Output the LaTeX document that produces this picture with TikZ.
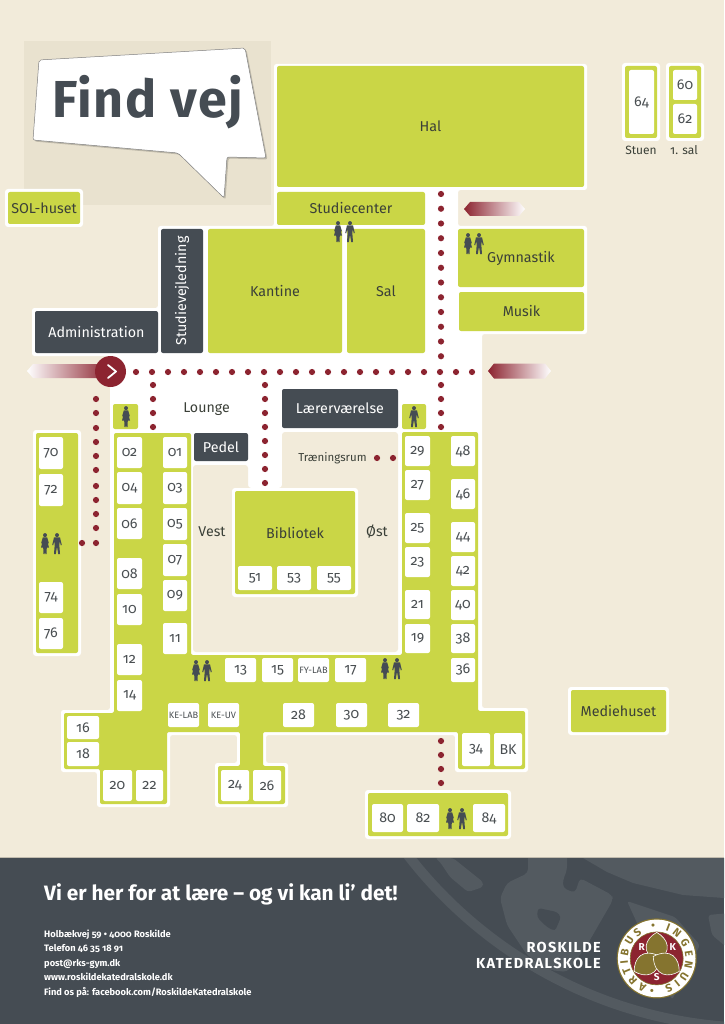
\documentclass[tikz,border=0pt]{standalone}
\usepackage{fontspec}
\usetikzlibrary{decorations.text}
\setmainfont{Fira Sans}[Numbers=OldStyle]
\definecolor{cream}{HTML}{F2EBDA}
\definecolor{creamd}{HTML}{E9E2CF}
\definecolor{lime}{HTML}{CAD646}
\definecolor{slate}{HTML}{454C53}
\definecolor{slatel}{HTML}{535A60}
\definecolor{wine}{HTML}{8C2430}
\definecolor{ink}{HTML}{3B4038}
\definecolor{roomink}{HTML}{4A4F52}
\definecolor{gold}{HTML}{85742F}
\newcommand\fz[1]{\fontsize{#1}{#1}\selectfont}
\tikzset{
  roombox/.style={fill=white,rounded corners=2pt,inner sep=0pt,text=roomink,font=\fz{14.2}},
  smallroom/.style={roombox,font=\fz{9.2}},
  hallbox/.style={fill=lime,rounded corners=2pt,inner sep=0pt,text=ink,font=\fz{14.3}},
  darkbox/.style={fill=slate,rounded corners=2pt,inner sep=0pt,text=white,font=\fz{14.3}},
  label/.style={inner sep=0pt,text=ink,font=\fz{14.2}},
  halo/.style={fill=white,rounded corners=3pt},
  pathdot/.style={fill=wine},
  person/.style={fill=slate},
}
\newcommand\bx[7]{% style, name, text, x1,y1,x2,y2
  \pgfmathsetmacro\bxx{(#4+#6)/2}\pgfmathsetmacro\bxy{(#5+#7)/2}
  \pgfmathsetmacro\bxw{#6-#4}\pgfmathsetmacro\bxh{#7-#5}
  \node[#1,minimum width=\bxw pt,minimum height=\bxh pt] (#2) at (\bxx,\bxy) {#3};}
\newcommand\rb[5]{\bx{roombox}{r#1}{#1}{#2}{#3}{#4}{#5}}
\newcommand\wcwoman[2]{\begin{scope}[shift={(#1,#2)}]
  \fill[person] (0,2.1) circle[radius=2pt];
  \fill[person] (-2.2,4.4)--(2.2,4.4)--(3.8,10)--(3,10.5)--(2,7)--(4,14.5)--(1.8,14.5)--(1.5,21)--(.3,21)--(0,14.5)--(-.3,21)--(-1.5,21)--(-1.8,14.5)--(-4,14.5)--(-2,7)--(-3,10.5)--(-3.8,10)--cycle;
\end{scope}}
\newcommand\wcman[2]{\begin{scope}[shift={(#1,#2)}]
  \fill[person] (0,2.1) circle[radius=2pt];
  \fill[person] (-3,4.4)--(3,4.4)--(4.8,12)--(3.8,12.3)--(2.6,7.5)--(2.4,13)--(3,21)--(1.2,21)--(0,13.5)--(-1.2,21)--(-3,21)--(-2.4,13)--(-2.6,7.5)--(-3.8,12.3)--(-4.8,12)--cycle;
\end{scope}}
\begin{document}
\begin{tikzpicture}[x=1pt,y=-1pt]
\useasboundingbox (0,0) rectangle (724,1024);
\fill[cream] (0,0) rectangle (724,1024);
\fill[creamd] (24,41) rectangle (271,205);
% white floor
\fill[white,rounded corners=2.5pt] (274,64)--(587,64)--(587,190)--(458,190)--(458,226)--(587,226)--(587,334)--(482,334)--(482,708)--(528,708)--(528,772)--(455,772)--(455,735)--(266,735)--(266,763)--(288,763)--(288,807)--(215,807)--(215,763)--(237,763)--(237,735)--(170,735)--(170,807)--(97,807)--(97,772)--(61,772)--(61,710)--(110,710)--(110,356)--(32,356)--(32,308)--(158,308)--(158,226)--(274,226)--cycle;
% courtyard
\fill[cream,rounded corners=3pt] (193,465)--(248,465)--(248,488)--(282,488)--(282,432)--(398,432)--(398,652)--(193,652)--cycle;
\fill[white,rounded corners=3pt] (232,488) rectangle (358,597);
% green main wing
\fill[lime,rounded corners=2pt] (114,433)--(191,433)--(191,655)--(402,655)--(402,432)--(478,432)--(478,711)--(525,711)--(525,769)--(458,769)--(458,732)--(263,732)--(263,766)--(285,766)--(285,804)--(218,804)--(218,766)--(240,766)--(240,732)--(167,732)--(167,804)--(100,804)--(100,769)--(64,769)--(64,713)--(114,713)--cycle;
% halos of separate buildings
\fill[halo] (5,189) rectangle (83,227);
\fill[halo] (622,63) rectangle (660,141);
\fill[halo] (666,63) rectangle (704,141);
\fill[halo] (33,430) rectangle (81,656);
\fill[halo] (365,790) rectangle (511,839);
\fill[halo] (568,687) rectangle (669,735);
% big rooms
\bx{hallbox}{hal}{Hal}{277}{66}{584}{187}
\bx{hallbox}{studiecenter}{Studiecenter}{277}{192}{425}{225}
\bx{hallbox}{kantine}{Kantine}{208}{229}{342}{353}
\bx{hallbox}{sal}{Sal}{347}{229}{425}{353}
\bx{hallbox}{gymnastik}{Gymnastik}{458}{229}{584}{287}
\bx{hallbox}{musik}{Musik}{459}{292}{584}{331}
\bx{hallbox}{solhuset}{SOL-huset}{8}{192}{80}{224}
\bx{hallbox}{mediehuset}{Mediehuset}{571}{690}{666}{732}
\bx{hallbox}{bibliotek}{\raisebox{20pt}{Bibliotek}}{235}{491}{355}{594}
\fill[lime,rounded corners=2pt] (36,433) rectangle (78,653);
\fill[lime,rounded corners=2pt] (368,793) rectangle (508,836);
\fill[lime,rounded corners=2pt] (625,66) rectangle (657,138);
\fill[lime,rounded corners=2pt] (669,66) rectangle (701,138);
\fill[lime,rounded corners=2pt] (113,404) rectangle (138,429);
\fill[lime,rounded corners=2pt] (402,404) rectangle (426,429);
% dark rooms
\bx{darkbox}{admin}{Administration}{35}{311}{158}{353}
\node[darkbox,minimum width=124pt,minimum height=42pt,rotate=90] (studiev) at (182,291) {Studievejledning};
\bx{darkbox}{laerer}{Lærerværelse}{282}{389}{398}{428}
\bx{darkbox}{pedel}{Pedel}{194}{433}{248}{461}
% rooms
\rb{64}{629}{70}{654}{134}\rb{60}{673}{70}{697}{100}\rb{62}{673}{104}{697}{134}
\rb{02}{117}{437}{142}{468}\rb{04}{117}{472}{142}{504}\rb{06}{117}{508}{142}{539}
\rb{08}{117}{558}{142}{589}\rb{10}{117}{594}{142}{625}\rb{12}{117}{644}{142}{675}\rb{14}{117}{680}{142}{711}
\rb{01}{163}{437}{187}{468}\rb{03}{163}{472}{187}{504}\rb{05}{163}{508}{187}{540}
\rb{07}{163}{544}{187}{576}\rb{09}{163}{580}{187}{611}\rb{11}{163}{623}{187}{654}
\rb{70}{39}{437}{63}{469}\rb{72}{39}{474}{63}{506}\rb{74}{39}{582}{63}{613}\rb{76}{39}{618}{63}{649}
\rb{16}{67}{716}{99}{739}\rb{18}{67}{742}{99}{766}
\rb{20}{103}{770}{132}{801}\rb{22}{136}{770}{163}{801}\rb{24}{221}{770}{249}{801}\rb{26}{253}{770}{281}{801}
\rb{13}{225}{658}{256}{682}\rb{15}{262}{658}{293}{682}
\bx{smallroom}{fylab}{FY-LAB}{298}{658}{329}{682}
\rb{17}{335}{658}{366}{682}
\bx{smallroom}{kelab}{KE-LAB}{168}{703}{199}{727}
\bx{smallroom}{keuv}{KE-UV}{208}{703}{239}{727}
\rb{28}{283}{703}{314}{727}\rb{30}{336}{703}{367}{727}\rb{32}{388}{703}{419}{727}
\rb{34}{462}{733}{490}{766}\rb{BK}{494}{733}{522}{766}
\rb{80}{372}{804}{403}{832}\rb{82}{407}{804}{439}{832}\rb{84}{473}{804}{505}{832}
\rb{29}{405}{436}{430}{466}\rb{27}{405}{470}{430}{500}\rb{25}{405}{513}{430}{543}\rb{23}{405}{547}{430}{577}\rb{21}{405}{590}{430}{619}\rb{19}{405}{624}{430}{653}
\rb{48}{451}{436}{475}{466}\rb{46}{451}{479}{475}{509}\rb{44}{451}{522}{475}{552}\rb{42}{451}{556}{475}{586}\rb{40}{451}{590}{475}{620}\rb{38}{451}{624}{475}{653}\rb{36}{451}{658}{475}{682}
\rb{51}{238}{566}{272}{590}\rb{53}{277}{566}{311}{590}\rb{55}{317}{566}{351}{590}
% labels
\node[label] (lounge) at (206.5,409) {Lounge};
\node[label] (vest) at (212,532) {Vest};
\node[label] (oest) at (377,532) {Øst};
\node[label,font=\fz{11.5}] (traening) at (332.5,458) {Træningsrum};
\node[label,font=\fz{12}] (stuen) at (641,150) {Stuen};
\node[label,font=\fz{12}] (forste) at (684,150) {1. sal};
% icons
\wcwoman{338}{221}\wcman{350}{221}
\wcwoman{468}{233}\wcman{479}{233}
\wcwoman{45}{533}\wcman{57}{533}
\wcwoman{196}{660}\wcman{207}{660}
\wcwoman{385}{658}\wcman{397}{658}
\wcwoman{450}{808}\wcman{462}{808}
\wcwoman{126}{406}\wcman{414}{406}
% dotted routes
\foreach \k in {0,...,21}{\pgfmathsetmacro\px{136+16*\k}\fill[pathdot] (\px,372) circle[radius=3.1pt];}
\foreach \py in {385,399,413,427}{\fill[pathdot] (153,\py) circle[radius=3.1pt];\fill[pathdot] (441,\py) circle[radius=3.1pt];}
\foreach \py in {385,399,413,427,441,455,469,483}{\fill[pathdot] (265,\py) circle[radius=3.1pt];}
\foreach \k in {0,...,11}{\pgfmathsetmacro\py{194+14.75*\k}\fill[pathdot] (441,\py) circle[radius=3.1pt];}
\foreach \py in {399,413,428,442,456,470,486,500,514,528,543}{\fill[pathdot] (96,\py) circle[radius=3.1pt];}
\fill[pathdot] (82,543) circle[radius=3.1pt];
\fill[pathdot] (377,458) circle[radius=3.1pt];
\fill[pathdot] (393,458) circle[radius=3.1pt];
\foreach \py in {741,755,769,783}{\fill[pathdot] (441,\py) circle[radius=3.1pt];}
% arrows
\shade[left color=white,right color=wine] (27,371)--(33,364)--(110,364)--(110,378)--(33,378)--cycle;
\fill[wine] (110.5,371.5) circle[radius=15.5pt];
\draw[white,line width=1.8pt,line cap=round,line join=round] (108,365)--(116,371.5)--(108,378);
\shade[left color=wine,right color=white] (464,209)--(470,202)--(519,202)--(525,209)--(519,216)--(470,216)--cycle;
\shade[left color=wine,right color=white] (488,371)--(494,363.5)--(545,363.5)--(551,371)--(545,378.5)--(494,378.5)--cycle;
% speech bubble
\fill[black,opacity=.18,rounded corners=2pt,shift={(1.5,1.5)}] (39,60)--(245,48)--(266,158)--(227,157)--(224,198)--(178,153)--(33,140)--cycle;
\draw[fill=white,draw=gray,line width=.5pt,rounded corners=2pt] (39,60)--(245,48)--(266,158)--(227,157)--(224,198)--(178,153)--(33,140)--cycle;
\node[anchor=base west,inner sep=0pt,text=slate,font=\fz{52}\bfseries\addfontfeature{LetterSpace=3}] (findvej) at (52,118) {Find vej};
% footer
\fill[slate] (0,858) rectangle (724,1024);
\draw[line width=.8pt,color=black!20!cream] (0,857.6)--(724,857.6);
\begin{scope}
\clip (0,858.2) rectangle (724,1024);
\draw[slatel,line width=10pt] (760,583) circle[radius=445pt];
\fill[slatel,rounded corners=3pt] (435,858)--(453,858)--(483,882)--(483,887)--(468,892)--(450,877)--(440,862)--cycle;
\fill[slatel,rounded corners=4pt] (563,888)--(575,893)--(580,878)--(612,895)--(613,900)--(587,945)--(567,972)--(550,970)--(527,955)--(507,925)--(500,898)--(507,883)--(528,873)--(528,850)--(567,850)--(567,870)--(563,880)--cycle;
\fill[slate,rounded corners=3pt] (538,908)--(557,912)--(561,917)--(555,931)--(547,927)--(537,917)--cycle;
\fill[slatel,rounded corners=3pt] (627,901)--(675,917)--(700,945)--(672,1000)--cycle;
\fill[slatel,rounded corners=3pt] (708,915)--(730,913)--(730,950)--(712,935)--cycle;
\fill[slatel] (583,858)--(607,872)--(633,883)--(683,895)--(724,898)--(724,850)--(583,850)--cycle;
\end{scope}
\node[anchor=base west,inner sep=0pt,text=white,font=\fz{20.8}\bfseries] (motto) at (44,900) {Vi er her for at lære – og vi kan li’ det!};
\foreach \n/\py/\addr in {a/937/{Holbækvej 59 • 4000 Roskilde},b/951.5/{Telefon 46 35 18 91},c/966/{post@rks-gym.dk},d/980.7/{www.roskildekatedralskole.dk},e/995/{Find os på: facebook.com/RoskildeKatedralskole}}{
  \node[anchor=base west,inner sep=0pt,text=white,font=\fz{9.3}\bfseries] (addr\n) at (44,\py) {\addr};}
\node[anchor=base east,inner sep=0pt,text=white,font=\fz{14.5}\bfseries\addfontfeature{LetterSpace=9}] (rk1) at (601,952) {ROSKILDE};
\node[anchor=base east,inner sep=0pt,text=white,font=\fz{14.5}\bfseries\addfontfeature{LetterSpace=9}] (rk2) at (601,968) {KATEDRALSKOLE};
% logo
\begin{scope}[shift={(656.7,958.4)},y=1pt]
\fill[gold] (0,0) circle[radius=40pt];
\fill[white] (0,0) circle[radius=38.8pt];
\fill[wine] (0,0) circle[radius=26.5pt];
\draw[gold,line width=.6pt] (0,0) circle[radius=26.5pt];
\foreach \a in {0,120,240}{
  \draw[fill=gold,draw=white,line width=.6pt,rotate=\a] (0,-4) .. controls (-17,7) and (-11,20) .. (0,26) .. controls (11,20) and (17,7) .. (0,-4) -- cycle;}
\node[inner sep=0pt,text=white,font=\fz{10}\bfseries] (logoR) at (-15,11) {R};
\node[inner sep=0pt,text=white,font=\fz{10}\bfseries] (logoK) at (16,11) {K};
\node[inner sep=0pt,text=white,font=\fz{10}\bfseries] (logoS) at (0,-19) {S};
\path[decorate,decoration={text along path,text align={fit to path},text={|\fz{11}\bfseries\color{gold}|ARTIBUS • INGENUIS •}}] (250:28.8) arc[start angle=250,delta angle=-352,radius=28.8pt];
\end{scope}
\end{tikzpicture}
\end{document}
